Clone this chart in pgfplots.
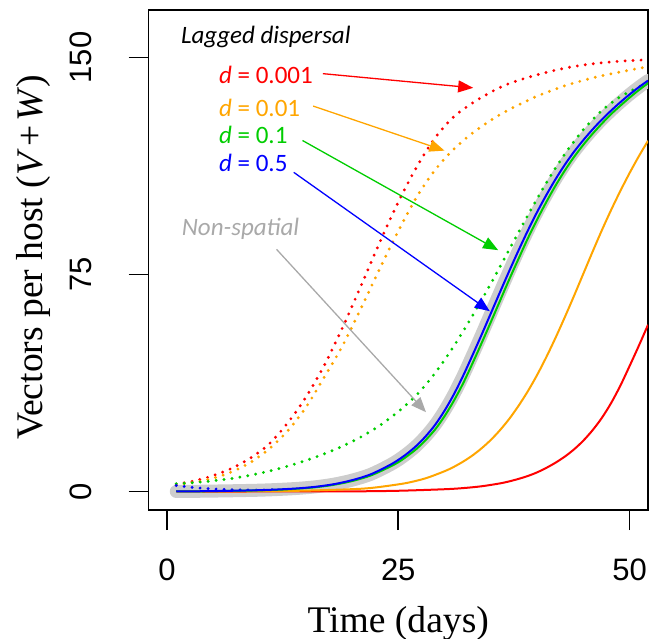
\documentclass[border=0pt]{standalone}
\usepackage{fontspec}
\setmainfont{Liberation Serif}
\newfontfamily\ticksf{Liberation Sans}
\newfontfamily\calib{Carlito}
\usepackage{pgfplots}
\pgfplotsset{compat=1.18}
\usetikzlibrary{arrows.meta}

\definecolor{rred}{RGB}{255,0,0}
\definecolor{rorange}{RGB}{255,165,0}
\definecolor{rgreen}{RGB}{0,205,0}
\definecolor{rblue}{RGB}{0,0,255}
\definecolor{rgray}{RGB}{169,169,169}
\definecolor{band}{RGB}{205,205,205}

\begin{document}
\begin{tikzpicture}
\begin{axis}[
    scale only axis,
    width=249.75pt, height=250pt,
    xmin=-2, xmax=52, ymin=-6.4, ymax=166.4,
    xtick={0,25,50}, ytick={0,75,150},
    tick align=outside, xtick pos=bottom, ytick pos=left,
    major tick length=10pt,
    every tick/.style={black, line width=0.9pt},
    axis line style={line width=0.9pt},
    tick label style={font=\fontsize{15.5}{18}\ticksf},
    /pgf/number format/assume math mode=true,
    xticklabel style={anchor=north, inner sep=0pt},
    yticklabel style={rotate=90, anchor=south, inner sep=0pt},
    xticklabel shift=14pt, yticklabel shift=18pt,
    label style={font=\fontsize{18.8}{22}\selectfont},
    xlabel={Time (days)},
    ylabel={Vectors per host (\textit{V}\kern1.5pt+\kern1.5pt\textit{W})},
    xlabel style={at={(axis description cs:0.5,-0.226)}, anchor=center},
    ylabel style={at={(axis description cs:-0.2303,0.505)}, anchor=center},
    dots/.style={line width=1.6pt, line cap=round, dash pattern=on 0pt off 4pt},
    solid line/.style={line width=1pt},
    every axis plot/.append style={smooth, tension=0.5, no marks},
]
\coordinate (sw) at (rel axis cs:0,0);
\coordinate (ne) at (rel axis cs:1,1);

% non-spatial model (grey band)
\addplot[band, line width=6.5pt, line cap=round] coordinates {
(1,0) (4,0.1) (7,0.25) (10,0.45) (12,0.7) (14,1.05) (16,1.6) (18,2.5) (20,3.9)
(22,5.9) (24,9.0) (25,10.9) (26,13.2) (27,15.9) (28,19.2) (29,23.1) (30,27.9)
(31,33.5) (32,39.9) (33,46.9) (34,54.1) (35,61.5) (36,68.9) (37,76.2) (38,83.3)
(39,90.1) (40,96.5) (41,102.4) (42,107.9) (43,112.9) (44,117.4) (45,121.4)
(46,125.1) (47,128.5) (48,131.6) (49,134.5) (50,137.2) (51,139.7) (52,142.0)
};

% lagged dispersal (dotted)
\addplot[rred, dots] coordinates {
(1,2.55) (3,3.7) (5,5.5) (7,8.0) (9,11.5) (11,16.3) (13,23.5) (15,32.5) (17,43.6)
(19,56.8) (21,71.3) (23,86.1) (25,100) (27,112.2) (29,122.3) (31,129.5) (33,134.2)
(35,138.0) (37,141.0) (40,144.0) (43,146.3) (46,147.8) (49,148.7) (52,149.2)
};
\addplot[rorange, dots] coordinates {
(1,2.2) (3,3.2) (5,4.6) (7,6.8) (9,10.0) (11,14.6) (13,20.8) (15,29.0) (17,39.5)
(19,50.5) (21,63.5) (23,77.0) (25,90.0) (27,101.8) (29,111.2) (31,118.3) (33,123.8)
(35,128.3) (37,132.0) (40,136.6) (43,140.2) (46,142.9) (49,145.0) (52,146.8)
};
\addplot[rgreen, dots] coordinates {
(1,2.7) (3,3.1) (5,3.7) (7,4.5) (9,5.6) (11,7.0) (13,8.7) (15,10.7) (17,13.0)
(19,15.7) (21,18.9) (23,22.8) (25,27.6) (27,33.4) (29,41.0) (31,50.2) (33,60.6)
(35,71.8) (37,83.6) (39,95.4) (41,106.6) (43,116.6) (45,125.0) (47,131.6)
(49,136.4) (52,141.4)
};
\addplot[rblue, dots] coordinates {
(1,2.1) (2,1.7) (3,1.35) (4,1.1) (5,0.9) (6,0.75) (7,0.62) (8,0.55) (10,0.5) (12,0.7)
};

% solid curves
\addplot[rred, solid line] coordinates {
(1,0) (10,0) (20,0.05) (25,0.25) (30,0.78) (32,1.17) (34,1.8) (36,2.8) (37,3.5)
(38,4.35) (39,5.35) (40,6.6) (41,8.15) (42,9.95) (43,12.05) (44,14.55) (45,17.55)
(46,21.15) (47,25.4) (48,30.5) (49,36.5) (50,43.3) (51,50.3) (52,57.6)
};
\addplot[rorange, solid line] coordinates {
(1,0) (10,0.1) (15,0.3) (20,0.8) (22,1.2) (24,2.0) (26,3.0) (28,4.6) (30,7.0)
(31,8.5) (32,10.3) (33,12.4) (34,14.9) (35,17.8) (36,21.2) (37,25.1) (38,29.6)
(39,34.6) (40,40.2) (41,46.4) (42,53.1) (43,60.2) (44,67.6) (45,75.2) (46,82.8)
(47,90.2) (48,97.2) (49,103.8) (50,110.0) (51,115.8) (52,121.2)
};
\addplot[rgreen, solid line] coordinates {
(1,0) (4,0.08) (7,0.2) (10,0.4) (12,0.6) (14,0.95) (16,1.45) (18,2.3) (20,3.6)
(22,5.5) (24,8.4) (25,10.1) (26,12.3) (27,14.8) (28,17.9) (29,21.5) (30,26.0)
(31,31.3) (32,37.3) (33,44.1) (34,51.2) (35,58.5) (36,65.9) (37,73.3) (38,80.4)
(39,87.4) (40,93.9) (41,100.0) (42,105.7) (43,110.9) (44,115.6) (45,119.8)
(46,123.6) (47,127.1) (48,130.4) (49,133.3) (50,136.1) (51,138.7) (52,141.1)
};
\addplot[rblue, solid line] coordinates {
(1,0) (4,0.1) (7,0.25) (10,0.45) (12,0.7) (14,1.05) (16,1.6) (18,2.5) (20,3.9)
(22,5.9) (24,9.0) (25,10.9) (26,13.2) (27,15.9) (28,19.2) (29,23.1) (30,27.9)
(31,33.5) (32,39.9) (33,46.9) (34,54.1) (35,61.5) (36,68.9) (37,76.2) (38,83.3)
(39,90.1) (40,96.5) (41,102.4) (42,107.9) (43,112.9) (44,117.4) (45,121.4)
(46,125.1) (47,128.5) (48,131.6) (49,134.5) (50,137.2) (51,139.7) (52,142.0)
};

% annotations
\begin{scope}[every node/.style={anchor=west, inner sep=0pt, font=\fontsize{12.5}{14}\calib}]
\node at (axis cs:1.48,157) {\itshape Lagged dispersal};
\node[text=rred] at (axis cs:5.6,143.9) {\textit{d} = 0.001};
\node[text=rorange] at (axis cs:5.6,132.6) {\textit{d} = 0.01};
\node[text=rgreen] at (axis cs:5.6,123.3) {\textit{d} = 0.1};
\node[text=rblue] at (axis cs:5.6,113.5) {\textit{d} = 0.5};
\node[text=rgray] at (axis cs:1.56,90.6) {\itshape Non-spatial};
\end{scope}
\begin{scope}[line width=0.65pt, -{Triangle[length=7.5pt,width=6pt]}]
\draw[rred] (axis cs:16.85,144.4) -- (axis cs:33.1,139.5);
\draw[rorange] (axis cs:15.8,133.2) -- (axis cs:30.0,117.8);
\draw[rgreen] (axis cs:14.65,121.3) -- (axis cs:35.8,83.4);
\draw[rblue] (axis cs:13.7,110.3) -- (axis cs:34.9,62.3);
\draw[rgray] (axis cs:11.84,83.7) -- (axis cs:28.0,27.4);
\end{scope}
\end{axis}
\pgfresetboundingbox
\path (sw) ++(-74.25pt,-64pt) rectangle ([shift={(4pt,5pt)}]ne);
\end{tikzpicture}
\end{document}
